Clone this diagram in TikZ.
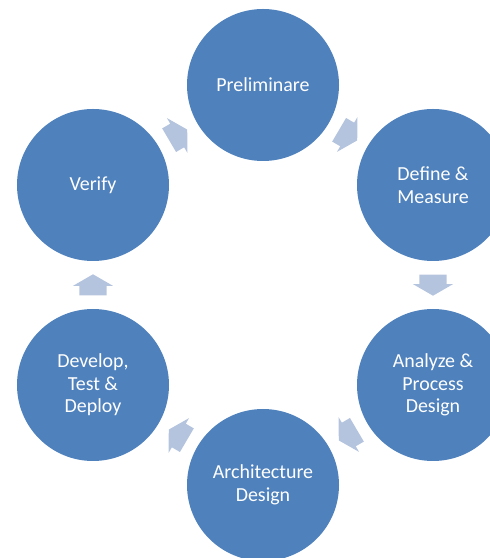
\documentclass[tikz,border=0pt]{standalone}
\usepackage{xcolor}
\usepackage{tikz}
\usepackage{fontspec}
\setmainfont{Carlito}
\usetikzlibrary{shapes.arrows}

\definecolor{stageblue}{HTML}{4F81BD}
\definecolor{arrowblue}{HTML}{B4C4DE}

\begin{document}
\begin{tikzpicture}[x=1bp,y=1bp,
                    stage node/.style={circle,fill=stageblue,minimum size=152bp,inner sep=0pt,text=white,align=center,font=\fontsize{20}{22.5}\selectfont},
                    flow arrow/.style={single arrow,fill=arrowblue,minimum height=21bp,minimum width=40bp,text height=13.5bp,text depth=13.5bp,single arrow head extend=6.5bp,single arrow tip angle=120,inner sep=0pt,sloped,allow upside down,anchor=tail,xshift=-10.5bp}]

  \useasboundingbox (0,0) rectangle (490,558);
  \clip (0,0) rectangle (490,558);

  \node[stage node] (pre) at (263,473) {Preliminare};
  \node[stage node] (def) [shift={(170,-100)}] at (pre) {Define \&\\Measure};
  \node[stage node] (ana) [shift={(0,-200)}] at (def) {Analyze \&\\Process\\Design};
  \node[stage node] (arc) [shift={(0,-400)}] at (pre) {Architecture\\Design};
  \node[stage node] (dev) [shift={(-340,0)}] at (ana) {Develop,\\Test \&\\Deploy};
  \node[stage node] (ver) [shift={(-340,0)}] at (def) {Verify};

  \path
  (pre) -- node[flow arrow] {} (def)
  (def) -- node[flow arrow] {} (ana)
  (ana) -- node[flow arrow] {} (arc)
  (arc) -- node[flow arrow] {} (dev)
  (dev) -- node[flow arrow] {} (ver)
  (ver) -- node[flow arrow] {} (pre);

\end{tikzpicture}
\end{document}
